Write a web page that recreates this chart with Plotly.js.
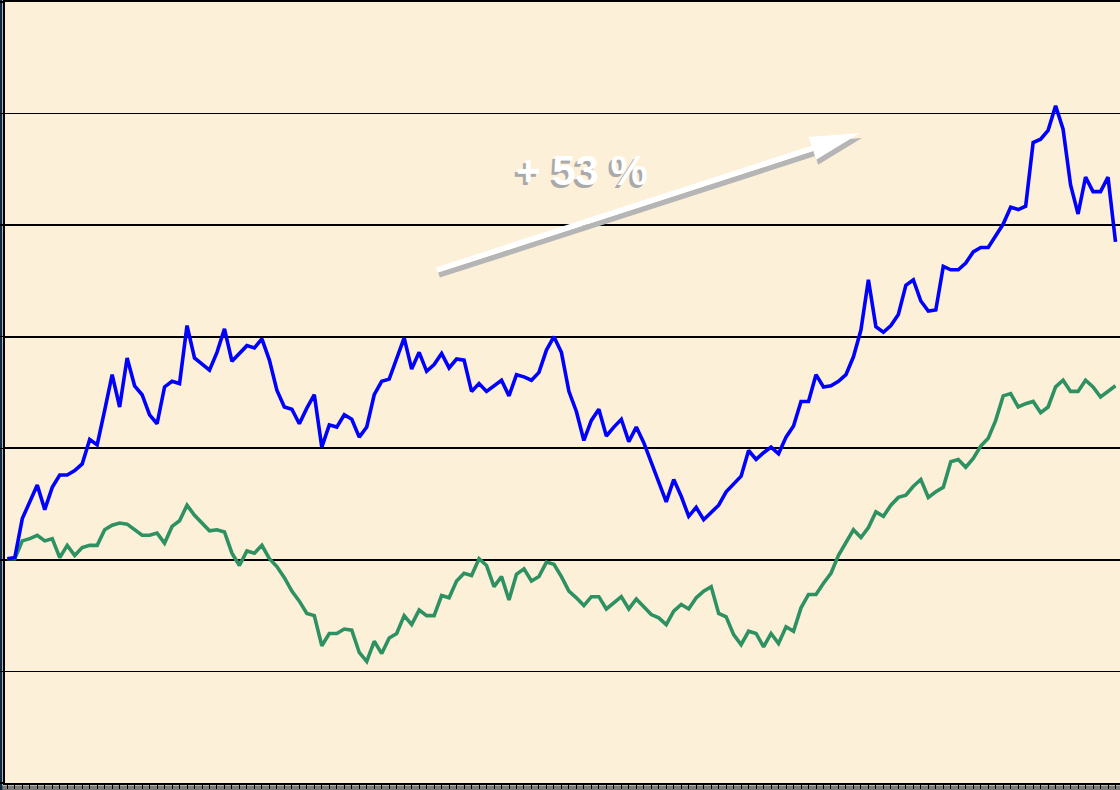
<!DOCTYPE html>
<html>
<head>
<meta charset="utf-8">
<script src="https://cdn.plot.ly/plotly-3.0.1.min.js"></script>
<style>
  html, body { margin: 0; padding: 0; background: #fcf0d8; }
  #chart { width: 1120px; height: 790px; }
</style>
</head>
<body>
<div id="chart"></div>
<script>
// Weekly index values (start = 100)
const fundValues = [
  100.1,100.2,103.7,105.2,106.7,104.5,106.5,107.6,107.6,108.0,
  108.6,110.8,110.3,113.4,116.6,113.7,118.1,115.6,114.8,113.0,
  112.2,115.5,116.0,115.8,121.0,118.1,117.6,117.0,118.6,120.7,
  117.8,118.5,119.2,119.0,119.8,117.9,115.2,113.7,113.5,112.2,
  113.6,114.8,110.1,112.1,111.9,113.0,112.6,111.0,111.9,114.8,
  116.0,116.2,118.0,119.9,117.1,118.6,116.9,117.5,118.5,117.2,
  118.0,117.9,115.1,115.8,115.1,115.6,116.1,114.7,116.6,116.4,
  116.1,116.8,118.8,120.0,118.6,115.1,113.3,110.7,112.5,113.5,
  111.1,111.9,112.6,110.6,111.9,110.5,108.7,106.9,105.2,107.2,
  105.7,103.9,104.7,103.6,104.3,104.9,106.1,106.8,107.5,109.8,
  109.0,109.6,110.1,109.5,111.0,112.0,114.2,114.2,116.6,115.5,
  115.6,116.0,116.6,118.2,120.6,125.1,120.9,120.4,121.0,122.0,
  124.6,125.1,123.2,122.3,122.4,126.3,126.0,126.0,126.6,127.6,
  128.0,128.0,129.1,130.1,131.6,131.4,131.7,137.4,137.7,138.5,
  140.7,138.6,133.6,131.0,134.3,133.0,133.0,134.3,128.5
];
const benchmarkValues = [
  100.1,100.1,101.7,101.9,102.2,101.7,101.9,100.2,101.3,100.4,
  101.1,101.3,101.3,102.7,103.1,103.3,103.2,102.7,102.2,102.2,
  102.4,101.5,103.0,103.5,104.9,104.0,103.3,102.6,102.7,102.5,
  100.6,99.5,100.8,100.6,101.3,100.1,99.4,98.4,97.2,96.3,
  95.2,95.0,92.3,93.4,93.4,93.8,93.7,91.7,90.9,92.7,
  91.6,93.0,93.4,95.0,94.2,95.5,95.0,95.0,96.8,96.6,
  98.1,98.8,98.6,100.1,99.5,97.6,98.5,96.4,98.7,99.2,
  98.1,98.5,99.8,99.6,98.5,97.2,96.6,95.9,96.7,96.7,
  95.6,96.1,96.7,95.6,96.5,95.8,95.1,94.8,94.2,95.4,
  96.0,95.6,96.6,97.2,97.6,95.2,94.9,93.3,92.4,93.6,
  93.4,92.2,93.4,92.5,94.0,93.6,95.7,96.9,96.9,97.9,
  98.8,100.4,101.6,102.7,102.0,102.9,104.3,103.9,104.9,105.6,
  105.8,106.6,107.2,105.6,106.1,106.5,108.8,109.0,108.3,109.1,
  110.2,110.9,112.5,114.7,114.9,113.7,114.0,114.2,113.2,113.7,
  115.5,116.1,115.1,115.1,116.1,115.5,114.6,115.1,115.6
];
const annotationText = "+ 53 %";

const weeks = fundValues.map((_, i) => i);

// pixel -> paper helpers for decorations (plot area: x 5..1120, y 2..783)
const W = 1115, H = 781, L = 5, T = 2;
const pxX = x => (x - L) / W;
const pxY = y => (T + H - y) / H;

function arrowShapes(dx, dy, color) {
  const tail = [437 + dx, 270 + dy];
  const tip = [860 + dx, 133 + dy];
  const vx = tip[0] - tail[0], vy = tip[1] - tail[1];
  const len = Math.hypot(vx, vy);
  const ux = vx / len, uy = vy / len;
  const nx = -uy, ny = ux;
  const hl = 50, hw = 12;
  const bx = tip[0] - hl * ux, by = tip[1] - hl * uy;
  const c1 = [bx + hw * nx, by + hw * ny];
  const c2 = [bx - hw * nx, by - hw * ny];
  return [
    { type: 'line', xref: 'paper', yref: 'paper', layer: 'above',
      x0: pxX(tail[0]), y0: pxY(tail[1]), x1: pxX(bx + 4 * ux), y1: pxY(by + 4 * uy),
      line: { color: color, width: 5.5 } },
    { type: 'path', xref: 'paper', yref: 'paper', layer: 'above',
      path: `M ${pxX(tip[0])} ${pxY(tip[1])} L ${pxX(c1[0])} ${pxY(c1[1])} L ${pxX(c2[0])} ${pxY(c2[1])} Z`,
      fillcolor: color, line: { width: 0 } }
  ];
}

const shapes = [
  // bottom grey strip under the axis
  { type: 'rect', xref: 'paper', yref: 'paper', layer: 'below',
    x0: pxX(0), x1: pxX(1120), y0: pxY(791), y1: pxY(785.5),
    fillcolor: '#7a7a7a', line: { width: 0 } },
  // navy edge on the left
  { type: 'rect', xref: 'paper', yref: 'paper', layer: 'below',
    x0: pxX(0), x1: pxX(2.3), y0: pxY(791), y1: pxY(0),
    fillcolor: '#0d2746', line: { width: 0 } },
  ...arrowShapes(2, 5, '#b5b5b5'),
  ...arrowShapes(0, 0, '#ffffff')
];

const data = [
  { x: weeks, y: benchmarkValues, type: 'scatter', mode: 'lines',
    line: { color: '#2e9162', width: 3.6 }, hoverinfo: 'skip' },
  { x: weeks, y: fundValues, type: 'scatter', mode: 'lines',
    line: { color: '#0000ff', width: 3.6 }, hoverinfo: 'skip' }
];

const layout = {
  width: 1120, height: 790,
  margin: { l: 5, r: 0, t: 2, b: 7, pad: 0 },
  paper_bgcolor: '#fcf0d8',
  plot_bgcolor: '#fcf0d8',
  showlegend: false,
  xaxis: {
    range: [-0.31, 148.6], showgrid: false, zeroline: false,
    showline: true, linecolor: '#000', linewidth: 2, mirror: true,
    ticks: 'outside', ticklen: 4, tickwidth: 1, tickcolor: '#000',
    tick0: 0, dtick: 1, showticklabels: false, fixedrange: true
  },
  yaxis: {
    range: [80, 150], dtick: 10, tick0: 80,
    showgrid: true, gridcolor: '#000', gridwidth: 1.8, zeroline: false,
    showline: true, linecolor: '#000', linewidth: 2,
    ticks: 'outside', ticklen: 4, tickwidth: 1.5, tickcolor: '#000',
    showticklabels: false, fixedrange: true
  },
  shapes: shapes,
  annotations: [
    { xref: 'paper', yref: 'paper', x: pxX(582), y: pxY(170), text: annotationText,
      showarrow: false, xanchor: 'center', yanchor: 'middle',
      font: { family: 'Liberation Sans, Arial, sans-serif', size: 42, weight: 'bold',
              color: '#ffffff', shadow: '-3px 3px 0px #a9a9a9' } }
  ]
};

Plotly.newPlot('chart', data, layout, { staticPlot: true, displayModeBar: false });
</script>
</body>
</html>
